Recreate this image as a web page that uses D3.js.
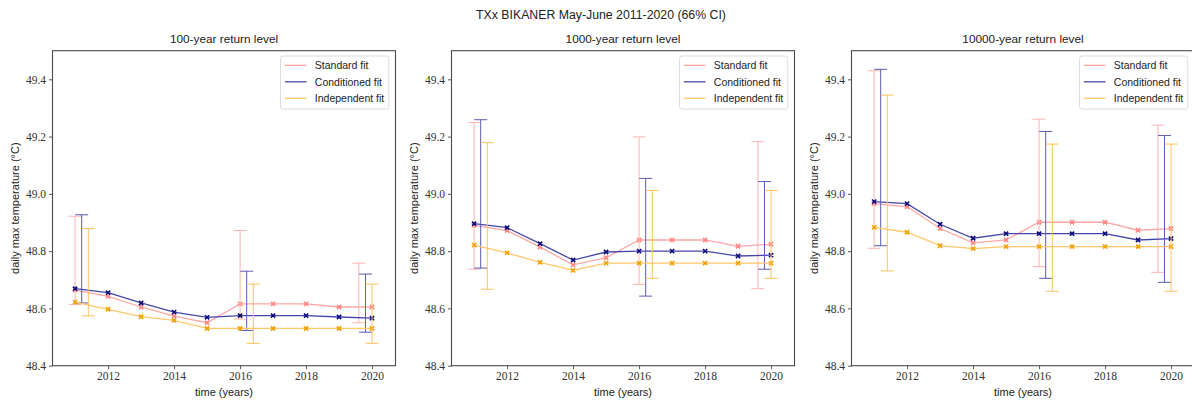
<!DOCTYPE html>
<html>
<head>
<meta charset="utf-8">
<script src="https://cdn.jsdelivr.net/npm/d3@7"></script>
<style>
  html, body { margin: 0; padding: 0; background: #fff; }
  svg { display: block; }
  .sans { font-family: "Liberation Sans", Arial, sans-serif; fill: #222; }
  .tick text { font-family: "Liberation Serif", "Times New Roman", serif; fill: #333; }
</style>
</head>
<body>
<svg id="chart" width="1192" height="403"></svg>
<script>
// ---- data -------------------------------------------------------------
const years = [2011, 2012, 2013, 2014, 2015, 2016, 2017, 2018, 2019, 2020];
const panelTitles = ["100-year return level", "1000-year return level", "10000-year return level"];
const seriesNames = ["Standard fit", "Conditioned fit", "Independent fit"];
const xTicks = [2012, 2014, 2016, 2018, 2020];
const yTicks = [48.4, 48.6, 48.8, 49.0, 49.2, 49.4];

// return levels per panel (100, 1000, 10000 years)
const standard100   = [48.664, 48.642, 48.605, 48.573, 48.550, 48.616, 48.616, 48.616, 48.605, 48.605];
const conditioned100 = [48.669, 48.655, 48.619, 48.587, 48.569, 48.575, 48.575, 48.575, 48.570, 48.566];
const independent100 = [48.622, 48.597, 48.571, 48.558, 48.530, 48.530, 48.530, 48.530, 48.530, 48.530];

const standard1000   = [48.890, 48.872, 48.814, 48.752, 48.777, 48.839, 48.839, 48.839, 48.817, 48.824];
const conditioned1000 = [48.896, 48.882, 48.826, 48.769, 48.797, 48.800, 48.800, 48.800, 48.783, 48.786];
const independent1000 = [48.821, 48.794, 48.761, 48.733, 48.758, 48.758, 48.758, 48.758, 48.758, 48.758];

const standard10000   = [48.966, 48.955, 48.879, 48.829, 48.839, 48.901, 48.901, 48.901, 48.873, 48.879];
const conditioned10000 = [48.973, 48.966, 48.894, 48.845, 48.861, 48.861, 48.861, 48.861, 48.839, 48.844];
const independent10000 = [48.883, 48.866, 48.819, 48.809, 48.816, 48.816, 48.816, 48.816, 48.816, 48.816];

// 66% confidence intervals, drawn at three dates (slightly staggered per fit)
const standardCiX    = [2011.0, 2016.0, 2019.6];
const conditionedCiX = [2011.2, 2016.2, 2019.8];
const independentCiX = [2011.4, 2016.4, 2020.0];

const standardCiLow100     = [48.614, 48.563, 48.550];
const standardCiHigh100    = [48.922, 48.872, 48.758];
const conditionedCiLow100  = [48.619, 48.523, 48.517];
const conditionedCiHigh100 = [48.927, 48.730, 48.720];
const independentCiLow100  = [48.574, 48.478, 48.478];
const independentCiHigh100 = [48.879, 48.685, 48.685];

const standardCiLow1000     = [48.737, 48.684, 48.669];
const standardCiHigh1000    = [49.249, 49.199, 49.182];
const conditionedCiLow1000  = [48.741, 48.643, 48.737];
const conditionedCiHigh1000 = [49.259, 49.054, 49.043];
const independentCiLow1000  = [48.667, 48.705, 48.705];
const independentCiHigh1000 = [49.179, 49.012, 49.012];

const standardCiLow10000     = [48.810, 48.746, 48.726];
const standardCiHigh10000    = [49.430, 49.261, 49.240];
const conditionedCiLow10000  = [48.819, 48.705, 48.691];
const conditionedCiHigh10000 = [49.435, 49.218, 49.204];
const independentCiLow10000  = [48.731, 48.660, 48.660];
const independentCiHigh10000 = [49.345, 49.174, 49.174];

// ---- styling ------------------------------------------------------------
const styles = [
  { line: "#ffa6a6", marker: "#ff8585", bar: "#ffb2b2" },
  { line: "#4646aa", marker: "#0a0a78", bar: "#5a5ab4" },
  { line: "#ffc76a", marker: "#f0a000", bar: "#ffc25e" }
];

const panels = [
  { title: panelTitles[0],
    series: [standard100, conditioned100, independent100],
    ciX: [standardCiX, conditionedCiX, independentCiX],
    lo: [standardCiLow100, conditionedCiLow100, independentCiLow100],
    hi: [standardCiHigh100, conditionedCiHigh100, independentCiHigh100] },
  { title: panelTitles[1],
    series: [standard1000, conditioned1000, independent1000],
    ciX: [standardCiX, conditionedCiX, independentCiX],
    lo: [standardCiLow1000, conditionedCiLow1000, independentCiLow1000],
    hi: [standardCiHigh1000, conditionedCiHigh1000, independentCiHigh1000] },
  { title: panelTitles[2],
    series: [standard10000, conditioned10000, independent10000],
    ciX: [standardCiX, conditionedCiX, independentCiX],
    lo: [standardCiLow10000, conditionedCiLow10000, independentCiLow10000],
    hi: [standardCiHigh10000, conditionedCiHigh10000, independentCiHigh10000] }
];

const svg = d3.select("#chart");
const panelLeft = [52.5, 451.5, 851.5];
const plotW = 343, plotTop = 50.7, plotH = 315;
const capHalf = 6.5;

svg.append("text")
  .attr("class", "sans")
  .attr("x", 601).attr("y", 18.5)
  .attr("text-anchor", "middle")
  .style("font-size", "12.3px")
  .text("TXx BIKANER May-June 2011-2020 (66% CI)");

panels.forEach((p, pi) => {
  const g = svg.append("g").attr("transform", `translate(${panelLeft[pi]},${plotTop})`);
  const x = d3.scaleLinear().domain([2010.315, 2020.71]).range([0, plotW]);
  const y = d3.scaleLinear().domain([48.4, 49.5]).range([plotH, 0]);

  // axes
  const xAxis = d3.axisBottom(x).tickValues(xTicks).tickFormat(d3.format("d")).tickSize(3.5).tickPadding(3);
  const yAxis = d3.axisLeft(y).tickValues(yTicks).tickFormat(d3.format(".1f")).tickSize(3.5).tickPadding(3);
  const gx = g.append("g").attr("transform", `translate(0,${plotH})`).call(xAxis);
  const gy = g.append("g").call(yAxis);
  [gx, gy].forEach(a => {
    a.select(".domain").remove();
    a.selectAll(".tick line").attr("stroke", "#444").attr("stroke-width", 0.9);
    a.selectAll(".tick text").style("font-size", "11.5px");
  });

  // series: line, markers, confidence bars
  p.series.forEach((vals, si) => {
    const st = styles[si];
    const pts = years.map((yr, i) => [yr, vals[i]]);
    g.append("path")
      .attr("d", d3.line().x(d => x(d[0])).y(d => y(d[1]))(pts))
      .attr("fill", "none").attr("stroke", st.line).attr("stroke-width", 1.3);

    const m = 2.1;
    g.append("g").selectAll("path").data(pts).join("path")
      .attr("d", d => {
        const cx = x(d[0]), cy = y(d[1]);
        return `M${cx - m},${cy - m}L${cx + m},${cy + m}M${cx - m},${cy + m}L${cx + m},${cy - m}`;
      })
      .attr("stroke", st.marker).attr("stroke-width", 1.6).attr("fill", "none");

    const bars = g.append("g").attr("stroke", st.bar).attr("stroke-width", 1).attr("fill", "none");
    p.ciX[si].forEach((cxv, k) => {
      const cx = x(cxv), y0 = y(p.lo[si][k]), y1 = y(p.hi[si][k]);
      bars.append("line").attr("x1", cx).attr("x2", cx).attr("y1", y0).attr("y2", y1);
      bars.append("line").attr("x1", cx - capHalf).attr("x2", cx + capHalf).attr("y1", y0).attr("y2", y0);
      bars.append("line").attr("x1", cx - capHalf).attr("x2", cx + capHalf).attr("y1", y1).attr("y2", y1);
    });
  });

  // frame
  g.append("rect").attr("width", plotW).attr("height", plotH)
    .attr("fill", "none").attr("stroke", "#4a4a4a").attr("stroke-width", 1.1);

  // legend
  const lg = g.append("g").attr("transform", `translate(${plotW - 115},5.3)`);
  lg.append("rect").attr("width", 108.3).attr("height", 53).attr("rx", 2.5)
    .attr("fill", "#fff").attr("fill-opacity", 0.85).attr("stroke", "#dcdcdc").attr("stroke-width", 1);
  seriesNames.forEach((name, si) => {
    const ry = 9.3 + si * 16.5;
    lg.append("line").attr("x1", 4.3).attr("x2", 26).attr("y1", ry).attr("y2", ry)
      .attr("stroke", styles[si].line).attr("stroke-width", 1.3);
    lg.append("text").attr("class", "sans").attr("x", 34.3).attr("y", ry + 3.8)
      .style("font-size", "10.5px").text(name);
  });

  // titles and labels
  g.append("text").attr("class", "sans")
    .attr("x", plotW / 2).attr("y", -7.5).attr("text-anchor", "middle")
    .style("font-size", "11.8px").text(p.title);
  g.append("text").attr("class", "sans")
    .attr("x", plotW / 2).attr("y", plotH + 30.5).attr("text-anchor", "middle")
    .style("font-size", "11px").text("time (years)");
  g.append("text").attr("class", "sans")
    .attr("transform", `translate(-33.5,${plotH / 2}) rotate(-90)`)
    .attr("text-anchor", "middle")
    .style("font-size", "11px").text("daily max temperature (°C)");
});
</script>
</body>
</html>
